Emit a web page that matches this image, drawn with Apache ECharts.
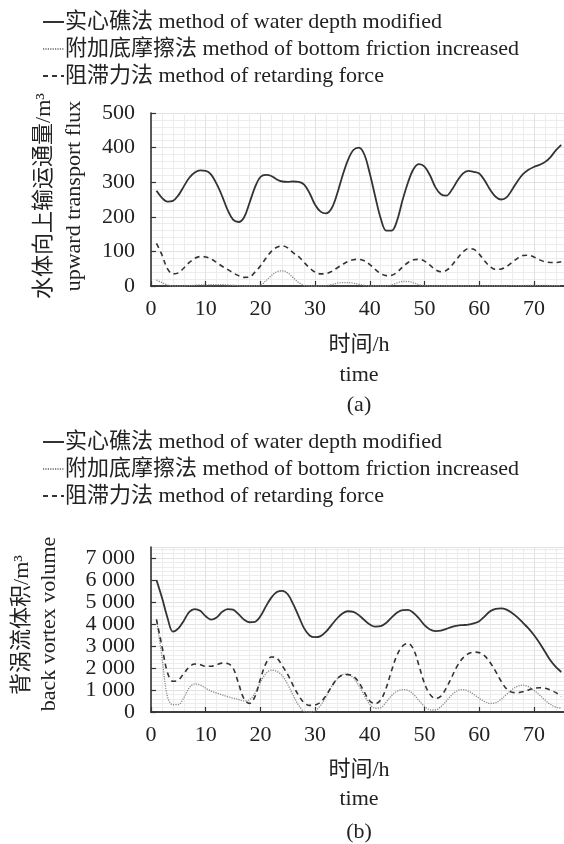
<!DOCTYPE html>
<html>
<head>
<meta charset="utf-8">
<script src="https://cdn.jsdelivr.net/npm/echarts@6/dist/echarts.min.js"></script>
<style>
  html, body { margin: 0; padding: 0; background: #fff; overflow: hidden; }
  #chart { width: 564px; height: 844px; }
</style>
</head>
<body>
<div id="chart"></div>
<script>
// Hours (x values) shared by both panels
const hours = [1,2,3,4,5,6,7,8,9,10,11,12,13,14,15,16,17,18,19,20,21,22,23,24,25,
  26,27,28,29,30,31,32,33,34,35,36,37,38,39,40,41,42,43,44,45,46,47,48,49,50,
  51,52,53,54,55,56,57,58,59,60,61,62,63,64,65,66,67,68,69,70,71,72,73,74,75];

// Series names
const nameSolid = '实心礁法 method of water depth modified';
const nameFriction = '附加底摩擦法 method of bottom friction increased';
const nameRetard = '阻滞力法 method of retarding force';

// (a) upward transport flux, m³
const fluxSolid = [275,255,244,246,262,288,313,328,334,333,322,295,260,220,192,185,198,240,285,315,
  321,318,308,302,301,302,301,293,268,235,215,210,224,265,318,364,393,400,380,325,
  258,195,160,160,190,249,300,338,352,345,320,285,265,261,278,304,325,333,330,325,
  305,278,258,250,256,278,303,323,336,344,350,358,372,392,408];
const fluxFriction = [17,10,3,0,0,0,1,2,3,3,4,4,4,3,2,1,0,0,0,2,
  15,30,41,44,38,24,10,2,0,0,0,1,4,8,10,10,8,5,2,0,
  0,0,0,3,9,13,13,9,4,1,0,0,0,0,0,0,0,0,0,0,
  0,0,0,0,0,1,1,1,2,2,2,2,1,1,1];
const fluxRetard = [123,90,50,35,38,52,68,80,85,84,78,68,57,48,38,30,25,26,40,58,
  80,100,112,116,110,96,85,68,52,40,35,36,42,52,62,71,76,77,73,62,
  48,36,30,31,40,55,68,76,77,72,60,47,41,45,60,80,98,108,106,92,
  72,56,48,49,56,68,80,88,89,84,76,70,68,68,70];

// (b) back vortex volume, m³
const volSolid = [6000,5200,4300,3650,3800,4150,4550,4680,4600,4350,4200,4300,4550,4680,4650,4450,4200,4080,4100,4350,
  4800,5200,5450,5510,5350,4900,4350,3800,3480,3400,3450,3650,3950,4250,4480,4580,4550,4400,4180,3980,
  3880,3900,4050,4300,4520,4630,4640,4500,4250,3950,3750,3680,3700,3780,3870,3930,3950,3970,4030,4130,
  4350,4580,4690,4710,4650,4500,4300,4050,3800,3500,3150,2750,2350,2050,1820];
const volFriction = [4230,2500,700,330,340,650,1100,1280,1230,1080,950,860,780,700,630,570,500,560,850,1350,
  1750,1900,1850,1650,1250,750,300,30,0,50,300,700,1150,1500,1700,1720,1550,1200,750,350,
  170,200,450,750,950,1020,980,800,520,250,100,90,250,500,780,970,1020,950,800,620,
  470,390,420,580,800,1020,1170,1220,1150,980,780,550,350,220,170];
const volRetard = [4200,3000,1800,1400,1450,1750,2050,2180,2150,2080,2080,2150,2220,2200,2000,1300,600,390,700,1500,
  2200,2500,2450,2100,1700,1200,750,420,300,320,450,750,1150,1500,1680,1700,1620,1350,900,500,
  380,550,1100,1900,2600,3000,3120,2850,2100,1300,800,620,720,1100,1600,2100,2450,2650,2720,2700,
  2550,2250,1850,1400,1050,900,880,920,1000,1080,1100,1080,1000,880,700];

// Axis tick values
const xTicks = [0,10,20,30,40,50,60,70];
const fluxTicks = [0,100,200,300,400,500];
const volTicks = [0,1000,2000,3000,4000,5000,6000,7000];

const FONT = "'Liberation Serif', 'Times New Roman', 'Noto Sans CJK SC', serif";
const INK = '#222';

const pairs = (xs, ys) => xs.map((x, i) => [x, ys[i]]);

function fmtThousands(v) {
  const s = String(v);
  return s.length > 3 ? s.slice(0, s.length - 3) + ' ' + s.slice(-3) : s;
}

function bottomAxis(gridIndex) {
  return {
    type: 'value', gridIndex, min: 0, max: 75.5, interval: 10,
    axisLine: { show: true, onZero: false, lineStyle: { color: '#333', width: 1.6 } },
    axisTick: { show: true, inside: true, length: 5, lineStyle: { color: '#333', width: 1.2 } },
    axisLabel: { show: true, color: INK, fontFamily: FONT, fontSize: 22, margin: 12,
      showMaxLabel: false,
      formatter: v => (xTicks.indexOf(v) >= 0 ? String(v) : '') },
    splitLine: { show: true, lineStyle: { color: '#e2e2e2', width: 1 } },
    minorTick: { show: false, splitNumber: 5 },
    minorSplitLine: { show: true, lineStyle: { color: '#ececec', width: 1 } }
  };
}
function topBorder(gridIndex) {
  return {
    type: 'value', gridIndex, position: 'top', min: 0, max: 75.5,
    axisLine: { show: true, lineStyle: { color: '#333', width: 1.6 } },
    axisTick: { show: false }, axisLabel: { show: false }, splitLine: { show: false }
  };
}
function leftAxis(gridIndex, max, interval, ticks, minorSplit, fmt) {
  return {
    type: 'value', gridIndex, min: 0, max, interval,
    axisLine: { show: true, lineStyle: { color: '#333', width: 1.6 } },
    axisTick: { show: true, inside: true, length: 5, lineStyle: { color: '#333', width: 1.2 } },
    axisLabel: { color: INK, fontFamily: FONT, fontSize: 22, margin: 16,
      showMaxLabel: ticks.indexOf(max) >= 0,
      formatter: v => (ticks.indexOf(v) >= 0 ? fmt(v) : '') },
    splitLine: { show: true, lineStyle: { color: '#e2e2e2', width: 1 } },
    minorTick: { show: false, splitNumber: minorSplit },
    minorSplitLine: { show: true, lineStyle: { color: '#ececec', width: 1 } }
  };
}

function lineSeries(name, xi, yi, data, style) {
  return {
    name, type: 'line', xAxisIndex: xi, yAxisIndex: yi,
    data, smooth: 0.35, symbol: 'none', silent: true,
    lineStyle: style, itemStyle: { color: style.color }, z: 3
  };
}

const solidStyle = { color: '#333', width: 1.8, type: 'solid' };
const frictionStyle = { color: '#8a8a8a', width: 1.3, type: [1.2, 1.2] };
const retardStyle = { color: '#333', width: 1.6, type: [5, 4] };

function legendAt(top) {
  return {
    orient: 'vertical', left: 37, top, itemWidth: 21, itemHeight: 12, itemGap: 5,
    selectedMode: false,
    itemStyle: { opacity: 0, borderWidth: 0 },
    data: [nameSolid, nameFriction, nameRetard],
    textStyle: { color: INK, fontFamily: FONT, fontSize: 22, lineHeight: 22, padding: [0, 0, 0, -4] }
  };
}

function textItem(x, y, text, rotate) {
  return {
    type: 'text', x, y, rotation: rotate ? Math.PI / 2 : 0, silent: true,
    style: { text, fill: INK, font: '22px ' + FONT, textAlign: 'center', textVerticalAlign: 'middle' }
  };
}

const chart = echarts.init(document.getElementById('chart'), null, { renderer: 'canvas' });
chart.setOption({
  animation: false,
  backgroundColor: '#fff',
  legend: [legendAt(6), legendAt(426)],
  grid: [
    { left: 151, top: 113, right: 0, bottom: 558, containLabel: false },
    { left: 151, top: 547, right: 0, bottom: 132, containLabel: false }
  ],
  xAxis: [bottomAxis(0), bottomAxis(1), topBorder(0), topBorder(1)],
  yAxis: [
    leftAxis(0, 500, 100, fluxTicks, 5, v => String(v)),
    leftAxis(1, 7500, 1000, volTicks, 5, fmtThousands)
  ],
  series: [
    lineSeries(nameSolid, 0, 0, pairs(hours, fluxSolid), solidStyle),
    lineSeries(nameFriction, 0, 0, pairs(hours, fluxFriction), frictionStyle),
    lineSeries(nameRetard, 0, 0, pairs(hours, fluxRetard), retardStyle),
    lineSeries(nameSolid, 1, 1, pairs(hours, volSolid), solidStyle),
    lineSeries(nameFriction, 1, 1, pairs(hours, volFriction), frictionStyle),
    lineSeries(nameRetard, 1, 1, pairs(hours, volRetard), retardStyle)
  ],
  graphic: [
    textItem(44, 196, '水体向上输运通量/m³', true),
    textItem(74, 196, 'upward transport flux', true),
    textItem(359, 345, '时间/h'),
    textItem(359, 375, 'time'),
    textItem(359, 405, '(a)'),
    textItem(22, 625, '背涡流体积/m³', true),
    textItem(49, 624, 'back vortex volume', true),
    textItem(359, 770, '时间/h'),
    textItem(359, 799, 'time'),
    textItem(359, 832, '(b)')
  ]
});
</script>
</body>
</html>
